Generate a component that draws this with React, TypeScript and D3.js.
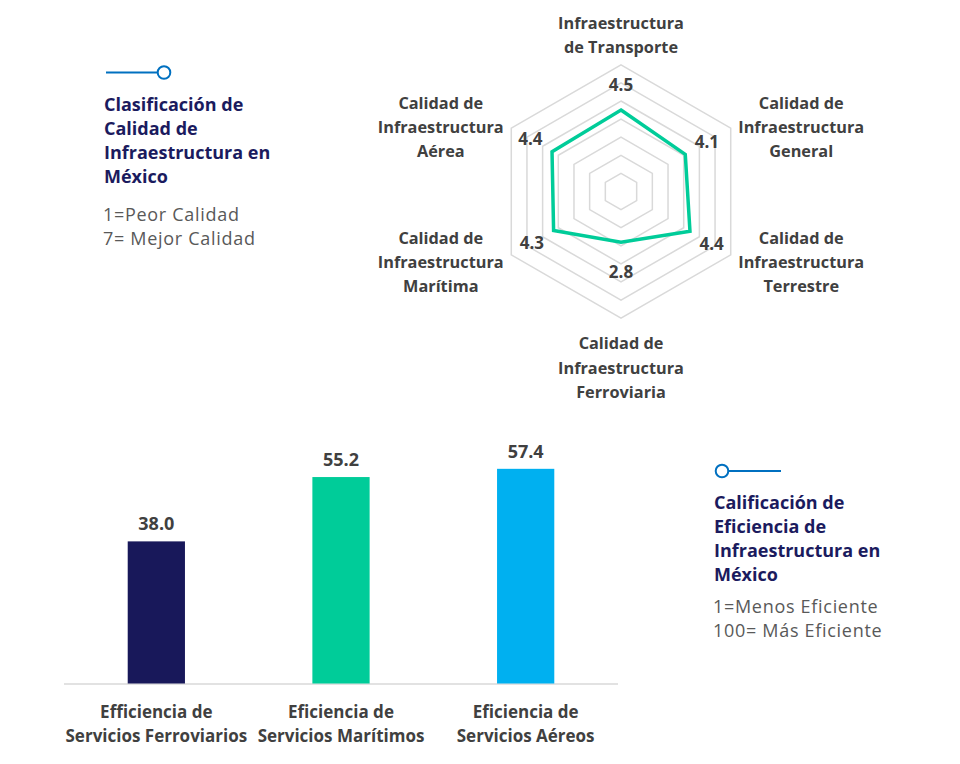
import React from 'react';
import * as d3 from 'd3';

const radarCategories: string[][] = [
  ["Infraestructura", "de Transporte"],
  ["Calidad de", "Infraestructura", "General"],
  ["Calidad de", "Infraestructura", "Terrestre"],
  ["Calidad de", "Infraestructura", "Ferroviaria"],
  ["Calidad de", "Infraestructura", "Marítima"],
  ["Calidad de", "Infraestructura", "Aérea"],
];
const radarValues = [4.5, 4.1, 4.4, 2.8, 4.3, 4.4];
const radarRings = [1, 2, 3, 4, 5, 6, 7];

const barCategories: string[][] = [
  ["Efficiencia de", "Servicios Ferroviarios"],
  ["Eficiencia de", "Servicios Marítimos"],
  ["Eficiencia de", "Servicios Aéreos"],
];
const barValues = [38.0, 55.2, 57.4];
const barColors = ["#18185A", "#00CC99", "#00B0F0"];

const legendTop = ["Clasificación de", "Calidad de", "Infraestructura en", "México"];
const legendTopSub = ["1=Peor Calidad", "7= Mejor Calidad"];
const legendBottom = ["Calificación de", "Eficiencia de", "Infraestructura en", "México"];
const legendBottomSub = ["1=Menos Eficiente", "100= Más Eficiente"];

const FONT = "'Open Sans', 'Noto Sans', sans-serif";
const LABEL = "#404040";
const NAVY = "#1B1B5E";
const SUB = "#595959";
const BLUE = "#0070C0";

export default function App() {
  // Radar
  const cx = 621, cy = 191.5;
  const R = 126.7;
  const r = d3.scaleLinear().domain([0, 7]).range([0, R]);
  const ang = (i: number) => (i * Math.PI) / 3; // 0 = up, clockwise
  const ringLine = d3
    .lineRadial<number>()
    .angle((_, i) => ang(i))
    .radius((d) => d)
    .curve(d3.curveLinearClosed);
  const dataLine = d3
    .lineRadial<number>()
    .angle((_, i) => ang(i))
    .radius((d) => r(d))
    .curve(d3.curveLinearClosed);

  const catLabelPos = (i: number) => {
    const a = ang(i);
    const sx = Math.sin(a), sy = -Math.cos(a);
    const vx = cx + sx * R, vy = cy + sy * R;
    const n = radarCategories[i].length;
    const lh = 24.3;
    if (i === 0) {
      return { x: vx, y0: vy - 12 - (n - 1) * lh, lh };
    }
    if (i === 3) {
      return { x: vx, y0: vy + 31, lh };
    }
    const x = vx + Math.sign(sx) * 70.5;
    const mid = vy + 9 + 8 * sy;
    return { x, y0: mid - ((n - 1) / 2) * lh, lh };
  };

  // Bars
  const idx = barValues.map((_, i) => i);
  const x = d3.scaleBand<number>().domain(idx).range([64, 618]).paddingInner(0.69).paddingOuter(0.345);
  const baseY = 683.5;
  const y = d3.scaleLinear().domain([0, 60]).range([baseY, baseY - 224.4]);

  return (
    <div style={{ position: 'absolute', left: 0, top: 0 }}>
      <svg width={960} height={764} style={{ display: 'block', fontFamily: FONT }}>
        <rect width={960} height={764} fill="#fff" />
        {/* Radar grid */}
        <g transform={`translate(${cx},${cy})`}>
          {radarRings.map((v) => (
            <path key={v} d={ringLine(d3.range(6).map(() => r(v))) || ''} fill="none" stroke="#D9D9D9" strokeWidth={1.5} />
          ))}
          <path d={dataLine(radarValues) || ''} fill="none" stroke="#00CC99" strokeWidth={3.5} strokeLinejoin="miter" />
        </g>
        {/* Radar value labels */}
        {radarValues.map((v, i) => {
          const a = ang(i);
          const sx = Math.sin(a), sy = -Math.cos(a);
          const px = cx + sx * r(v), py = cy + sy * r(v);
          const off = 25;
          const extraY = i === 3 ? 5 : 0;
          return (
            <text key={i} x={px + sx * off} y={py + sy * off + extraY} dy="0.35em" textAnchor="middle"
              fontSize={17} fontWeight={700} fill={LABEL}>
              {v.toFixed(1)}
            </text>
          );
        })}
        {/* Radar category labels */}
        {radarCategories.map((lines, i) => {
          const p = catLabelPos(i);
          return (
            <text key={i} textAnchor="middle" fontSize={16.3} fontWeight={700} fill={LABEL}>
              {lines.map((l, j) => (
                <tspan key={j} x={p.x} y={p.y0 + j * p.lh}>{l}</tspan>
              ))}
            </text>
          );
        })}

        {/* Top-left legend */}
        <line x1={106} y1={72.5} x2={157.5} y2={72.5} stroke={BLUE} strokeWidth={2} />
        <circle cx={164} cy={72.5} r={6.3} fill="#fff" stroke={BLUE} strokeWidth={2} />
        <text fontSize={18} fontWeight={700} fill={NAVY}>
          {legendTop.map((l, j) => (
            <tspan key={j} x={104} y={110.5 + j * 24}>{l}</tspan>
          ))}
        </text>
        {legendTopSub.map((l, j) => (
          <text key={j} x={103} y={220.5 + j * 24} fontSize={18} letterSpacing={0.7} fill={SUB}>{l}</text>
        ))}

        {/* Bars */}
        <line x1={64} x2={618} y1={baseY + 0.5} y2={baseY + 0.5} stroke="#D9D9D9" strokeWidth={1.5} />
        {barValues.map((v, i) => (
          <g key={i}>
            <rect x={x(i)} y={y(v)} width={x.bandwidth()} height={baseY - y(v)} fill={barColors[i]} />
            <text x={(x(i) || 0) + x.bandwidth() / 2} y={y(v) - 11} textAnchor="middle" fontSize={18}
              fontWeight={700} fill={LABEL}>
              {v.toFixed(1)}
            </text>
            <text textAnchor="middle" fontSize={17} fontWeight={700} fill={LABEL}>
              {barCategories[i].map((l, j) => (
                <tspan key={j} x={(x(i) || 0) + x.bandwidth() / 2} y={718 + j * 24}>{l}</tspan>
              ))}
            </text>
          </g>
        ))}

        {/* Bottom-right legend */}
        <circle cx={722} cy={471} r={6.3} fill="#fff" stroke={BLUE} strokeWidth={2} />
        <line x1={728.5} y1={471} x2={781} y2={471} stroke={BLUE} strokeWidth={2} />
        <text fontSize={18} fontWeight={700} fill={NAVY}>
          {legendBottom.map((l, j) => (
            <tspan key={j} x={714} y={508.5 + j * 24}>{l}</tspan>
          ))}
        </text>
        {legendBottomSub.map((l, j) => (
          <text key={j} x={713} y={612.5 + j * 24} fontSize={18} letterSpacing={0.7} fill={SUB}>{l}</text>
        ))}
      </svg>
    </div>
  );
}
